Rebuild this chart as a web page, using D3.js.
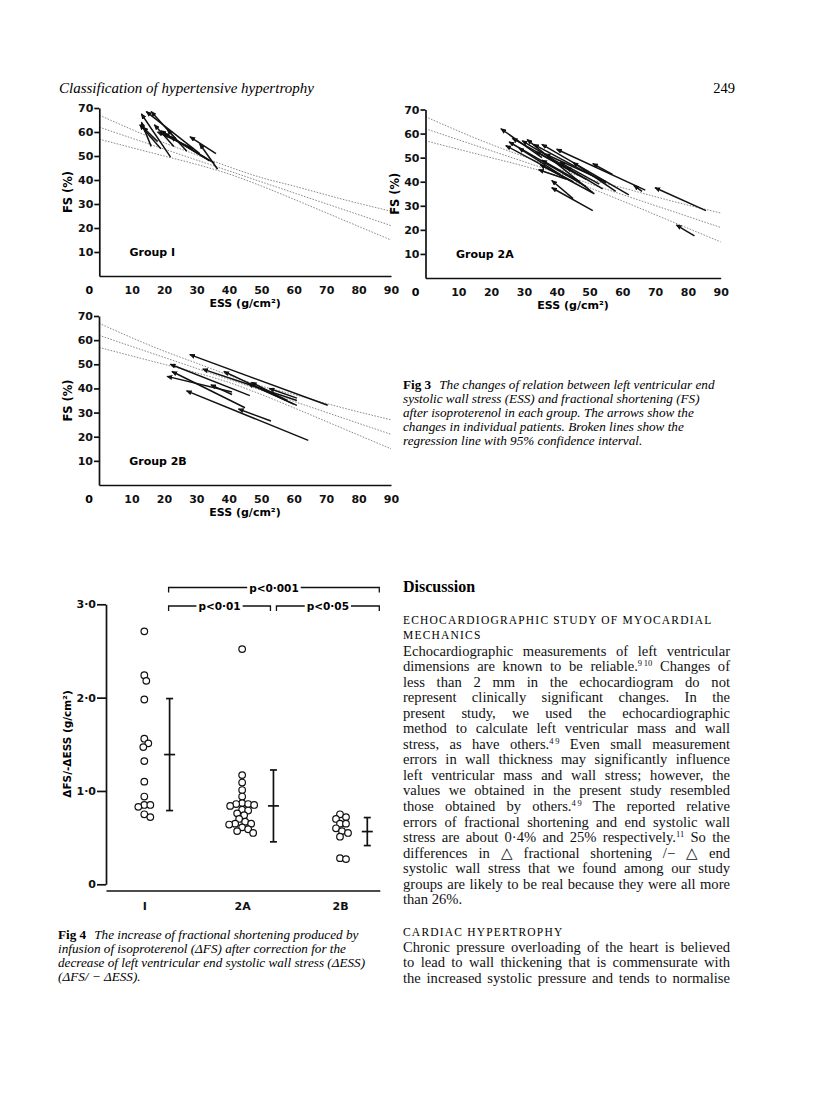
<!DOCTYPE html>
<html>
<head>
<meta charset="utf-8">
<script src="https://cdn.jsdelivr.net/npm/d3@7/dist/d3.min.js"></script>
<style>
  body { margin: 0; background: #fff; }
  svg { display: block; }
</style>
</head>
<body>
<svg id="page" width="816" height="1093"></svg>
<script>
// ---- data ----
var essTicks = [10, 20, 30, 40, 50, 60, 70, 80, 90];
var fsTicks  = [10, 20, 30, 40, 50, 60, 70];

// regression line and its 95% confidence limits (FS read at these ESS values)
var bandEss   = [0, 20, 30, 40, 50, 60, 75, 90];
var bandUpper = [67, 55.5, 50.5, 45.5, 41, 37.5, 32, 27];
var bandLower = [57, 50, 46.5, 42.5, 37.5, 32, 23.5, 15];
var regEss    = [0, 90];
var regFs     = [62, 21];

// arrows: [ESS before, FS before, ESS after, FS after]
var group1Arrows = [
  [22, 49.5, 13, 67.5], [31, 51, 14.5, 68.5], [27, 52, 16, 68.5], [16, 54, 13, 64],
  [19, 53, 12.5, 63], [18, 56, 13.5, 62], [33, 49, 19, 60.5], [35.5, 47, 20, 59.5],
  [25, 55, 21, 61], [36, 51, 28, 58], [36.5, 44.5, 31, 55], [23, 54, 17, 63],
  [34, 48, 22, 58], [29, 53, 18, 60]
];
var group2AArrows = [
  [35.5, 50, 23, 62], [45, 40, 24.5, 55], [49, 38, 25.5, 56.5], [47, 42.5, 26.5, 58],
  [43, 46, 29.5, 57], [51, 35.5, 31, 57.5], [55, 39.5, 33, 55.5], [62, 34.5, 35.5, 55.5],
  [67, 36.5, 40, 53.5], [58, 36, 45, 48], [66, 36, 63.5, 38.5], [85.5, 28, 70, 37.5],
  [82, 17.5, 76.5, 22], [45, 33, 38.5, 40.5], [51, 28, 38.5, 37.5], [51.5, 35, 35, 47],
  [47, 40, 35.5, 49], [55, 40, 36.5, 51.5], [49, 41, 33.5, 52.5], [53, 39, 41, 48],
  [41, 43, 28.5, 54], [43, 41, 34.5, 45], [54, 37, 43, 46], [57, 43, 51, 47.5]
];
var group2BArrows = [
  [70.5, 33, 28, 54], [61, 35, 32, 48], [60, 33.5, 38.5, 47], [46.5, 37, 22, 50],
  [41, 38.5, 21, 45], [45, 32, 22.5, 47], [64.5, 18.5, 27, 39], [53, 26.5, 43, 31.5],
  [41, 37.5, 34.5, 41.5], [61, 33, 46, 42], [61, 36, 52.5, 40], [58, 35, 47, 42.5]
];

// Fig 4: ΔFS/-ΔESS per patient
var fig4Groups = ["I", "2A", "2B"];
var fig4I  = [2.71, 2.24, 2.18, 1.98, 1.56, 1.51, 1.47, 1.32, 1.10, 0.94, 0.85, 0.85, 0.83, 0.75, 0.72];
var fig4A  = [2.52, 1.17, 1.09, 1.01, 0.94, 0.87, 0.84, 0.86, 0.86, 0.85, 0.80, 0.79, 0.74, 0.76,
              0.70, 0.67, 0.65, 0.65, 0.64, 0.61, 0.59, 0.57, 0.55];
var fig4B  = [0.75, 0.70, 0.72, 0.65, 0.65, 0.60, 0.57, 0.55, 0.51, 0.28, 0.27];
var fig4Mean = [1.39, 0.84, 0.565];
var fig4Sd   = [0.60, 0.385, 0.15];
var fig4Ticks = [0, 1, 2, 3];
var pBrackets = [
  {from: "I",  to: "2B", label: "p<0·001", level: 0},
  {from: "I",  to: "2A", label: "p<0·01",  level: 1},
  {from: "2A", to: "2B", label: "p<0·05",  level: 1}
];

// ---- text ----
var fig3Caption = [
  "The changes of relation between left ventricular end",
  "systolic wall stress (ESS) and fractional shortening (FS)",
  "after isoproterenol in each group. The arrows show the",
  "changes in individual patients. Broken lines show the",
  "regression line with 95% confidence interval."
];
var fig4Caption = [
  "The increase of fractional shortening produced by",
  "infusion of isoproterenol (ΔFS) after correction for the",
  "decrease of left ventricular end systolic wall stress (ΔESS)",
  "(ΔFS/ − ΔESS)."
];
var para1 = [
  "Echocardiographic measurements of left ventricular",
  "dimensions are known to be reliable.^{9\u200910} Changes of",
  "less than 2 mm in the echocardiogram do not",
  "represent clinically significant changes. In the",
  "present study, we used the echocardiographic",
  "method to calculate left ventricular mass and wall",
  "stress, as have others.^{4\u20099} Even small measurement",
  "errors in wall thickness may significantly influence",
  "left ventricular mass and wall stress; however, the",
  "values we obtained in the present study resembled",
  "those obtained by others.^{4\u20099} The reported relative",
  "errors of fractional shortening and end systolic wall",
  "stress are about 0·4% and 25% respectively.^{11} So the",
  "differences in △ fractional shortening /− △ end",
  "systolic wall stress that we found among our study",
  "groups are likely to be real because they were all more",
  "than 26%."
];
var para2 = [
  "Chronic pressure overloading of the heart is believed",
  "to lead to wall thickening that is commensurate with",
  "the increased systolic pressure and tends to normalise"
];

var SANS = "DejaVu Sans", SERIF = "Liberation Serif";
var svg = d3.select("#page");

svg.append("defs").append("marker")
    .attr("id", "head").attr("viewBox", "0 -3 7 6")
    .attr("refX", 6).attr("refY", 0)
    .attr("markerWidth", 6).attr("markerHeight", 5.1)
    .attr("markerUnits", "userSpaceOnUse").attr("orient", "auto")
  .append("path").attr("d", "M0,-3L7,0L0,3Z").attr("fill", "#111");

function styleAxis(sel, size) {
    sel.attr("font-family", null).attr("font-size", null);
    sel.selectAll("path, line").attr("stroke", "#111").attr("stroke-width", 1.7);
    sel.selectAll("text").attr("font-family", SANS).attr("font-weight", "bold")
        .attr("font-size", size || 11).attr("fill", "#111");
}

// ---- Fig 3 panels ----
var panels = [
    {name: "Group I",  arrows: group1Arrows,  x: [99.3, 391],    y: [276, 108]},
    {name: "Group 2A", arrows: group2AArrows, x: [425.5, 720.7], y: [278, 109.5]},
    {name: "Group 2B", arrows: group2BArrows, x: [99, 391],      y: [485, 316]}
];

function arrowPanel(p) {
    var x = d3.scaleLinear().domain([0, 90]).range(p.x),
        y = d3.scaleLinear().domain([0, 70]).range(p.y);
    var g = svg.append("g");

    var band = [d3.zip(bandEss, bandUpper), d3.zip(regEss, regFs), d3.zip(bandEss, bandLower)];
    var line = d3.line().x(function(d) { return x(d[0]); }).y(function(d) { return y(d[1]); })
        .curve(d3.curveMonotoneX);
    g.selectAll("path.reg").data(band).enter().append("path")
        .attr("class", "reg").attr("d", line).attr("fill", "none")
        .attr("stroke", "#8c8c8c").attr("stroke-width", 1).attr("stroke-dasharray", "1.6,1.4");

    g.selectAll("line.arrow").data(p.arrows).enter().append("line")
        .attr("class", "arrow")
        .attr("x1", function(d) { return x(d[0]); }).attr("y1", function(d) { return y(d[1]); })
        .attr("x2", function(d) { return x(d[2]); }).attr("y2", function(d) { return y(d[3]); })
        .attr("stroke", "#111").attr("stroke-width", 1.5)
        .attr("marker-end", "url(#head)");

    var ya = g.append("g").attr("transform", "translate(" + x(0) + ",0)")
        .call(d3.axisLeft(y).tickValues(fsTicks).tickSize(5).tickPadding(1).tickSizeOuter(0));
    var xa = g.append("g").attr("transform", "translate(0," + y(0) + ")")
        .call(d3.axisBottom(x).tickValues(essTicks).tickSize(0).tickPadding(10).tickSizeOuter(0));
    styleAxis(ya); styleAxis(xa);

    g.append("text").attr("x", x(0) - 10).attr("y", y(0) + 18)
        .attr("text-anchor", "middle").attr("font-family", SANS).attr("font-weight", "bold")
        .attr("font-size", 11).text("0");

    g.append("text").attr("x", (p.x[0] + p.x[1]) / 2).attr("y", y(0) + 31)
        .attr("text-anchor", "middle").attr("font-family", SANS).attr("font-weight", "bold")
        .attr("font-size", 11)
        .text("ESS (g/cm²)");

    g.append("text").attr("transform", "translate(" + (x(0) - 27) + "," + y(35) + ") rotate(-90)")
        .attr("text-anchor", "middle").attr("font-family", SANS).attr("font-weight", "bold")
        .attr("font-size", 11.5).text("FS (%)");

    g.append("text").attr("x", x(9.3)).attr("y", y(10) + 4)
        .attr("font-family", SANS).attr("font-weight", "bold").attr("font-size", 11)
        .text(p.name);
}
panels.forEach(arrowPanel);

// ---- Fig 4 ----
var y4 = d3.scaleLinear().domain([0, 3]).range([884.3, 604.3]);
var x4 = d3.scalePoint().domain(fig4Groups).range([144.3, 340]);
var R = 3.3;

// simple beeswarm: nudge each circle sideways until it clears the ones placed
function swarm(vals, cx) {
    var placed = [];
    vals.slice().sort(d3.descending).forEach(function(v) {
        var cy = y4(v), off = 0;
        for (var k = 0; k < 80; k++) {
            off = k === 0 ? 0 : (k % 2 ? 1 : -1) * Math.ceil(k / 2);
            var hit = placed.some(function(q) {
                var dx = q.x - (cx + off), dy = q.y - cy;
                return dx * dx + dy * dy < 5.8 * 5.8;
            });
            if (!hit) break;
        }
        placed.push({x: cx + off, y: cy, v: v});
    });
    return placed;
}

var fig4Vals = [fig4I, fig4A, fig4B];
var g4 = svg.append("g");
var barX = {};
fig4Groups.forEach(function(grp, i) {
    var pts = swarm(fig4Vals[i], x4(grp));
    g4.selectAll("circle.g" + i).data(pts).enter().append("circle")
        .attr("cx", function(d) { return d.x; }).attr("cy", function(d) { return d.y; })
        .attr("r", R).attr("fill", "#fff").attr("stroke", "#111").attr("stroke-width", 1.2);

    var bx = d3.max(pts, function(d) { return d.x; }) + R + 16;
    barX[grp] = bx;
    var m = fig4Mean[i], s = fig4Sd[i];
    var bar = g4.append("g").attr("stroke", "#111").attr("stroke-width", 1.7);
    bar.append("line").attr("x1", bx).attr("x2", bx).attr("y1", y4(m - s)).attr("y2", y4(m + s));
    bar.append("line").attr("x1", bx - 3.5).attr("x2", bx + 3.5).attr("y1", y4(m - s)).attr("y2", y4(m - s));
    bar.append("line").attr("x1", bx - 3.5).attr("x2", bx + 3.5).attr("y1", y4(m + s)).attr("y2", y4(m + s));
    bar.append("line").attr("x1", bx - 5.5).attr("x2", bx + 5.5).attr("y1", y4(m)).attr("y2", y4(m));
});

var y4a = g4.append("g").attr("transform", "translate(106,0)")
    .call(d3.axisLeft(y4).tickValues(fig4Ticks).tickSize(9).tickPadding(1).tickSizeOuter(0)
        .tickFormat(function(d) { return d === 0 ? "0" : d3.format(".1f")(d).replace(".", "·"); }));
styleAxis(y4a);

g4.append("line").attr("x1", 106.5).attr("x2", barX["2B"] + 13)
    .attr("y1", 891).attr("y2", 891).attr("stroke", "#111").attr("stroke-width", 1.7);
var x4a = g4.append("g").attr("transform", "translate(0,891)")
    .call(d3.axisBottom(x4).tickSize(0).tickPadding(11));
x4a.select(".domain").remove();
styleAxis(x4a);

g4.append("text").attr("transform", "translate(71,744) rotate(-90)")
    .attr("text-anchor", "middle").attr("font-family", SANS).attr("font-weight", "bold")
    .attr("font-size", 10.5).text("ΔFS/-ΔESS (g/cm²)");

// significance brackets
pBrackets.forEach(function(b) {
    var x1 = barX[b.from] + (b.from === "I" ? -1 : 3),
        x2 = barX[b.to] + (b.to === "2B" ? 12 : -3),
        yb = b.level === 0 ? 587.5 : 606,
        xm = (x1 + x2) / 2;
    var t = g4.append("text").attr("x", xm).attr("y", yb + 4)
        .attr("text-anchor", "middle").attr("font-family", SANS).attr("font-weight", "bold")
        .attr("font-size", 10.5).text(b.label);
    var half = t.node().getComputedTextLength() / 2 + 2;
    g4.append("path")
        .attr("d", "M" + x1 + "," + (yb + 5) + "V" + yb + "H" + (xm - half) +
                   "M" + (xm + half) + "," + yb + "H" + x2 + "V" + (yb + 5))
        .attr("fill", "none").attr("stroke", "#111").attr("stroke-width", 1.3);
});

// ---- page text ----
svg.append("text").attr("x", 59).attr("y", 93)
    .attr("font-family", SERIF).attr("font-style", "italic").attr("font-size", 15)
    .text("Classification of hypertensive hypertrophy");
svg.append("text").attr("x", 735).attr("y", 93).attr("text-anchor", "end")
    .attr("font-family", SERIF).attr("font-size", 14.5).text("249");

function caption(x, y0, label, lines) {
    lines.forEach(function(s, i) {
        var t = svg.append("text").attr("x", x).attr("y", y0 + i * 14)
            .attr("font-family", SERIF).attr("font-size", 13.2);
        if (i === 0) {
            t.append("tspan").attr("font-weight", "bold").text(label);
            t.append("tspan").attr("dx", 8).attr("font-style", "italic").text(s);
        } else {
            t.append("tspan").attr("font-style", "italic").text(s);
        }
    });
}
caption(403, 389, "Fig 3", fig3Caption);
caption(58, 939, "Fig 4", fig4Caption);

svg.append("text").attr("x", 403).attr("y", 592)
    .attr("font-family", SERIF).attr("font-weight", "bold").attr("font-size", 16)
    .text("Discussion");

function smallCaps(y, s) {
    svg.append("text").attr("x", 403).attr("y", y)
        .attr("font-family", SERIF).attr("font-size", 11.5).attr("letter-spacing", 1.2)
        .text(s);
}
smallCaps(624, "ECHOCARDIOGRAPHIC STUDY OF MYOCARDIAL");
smallCaps(639, "MECHANICS");
smallCaps(936, "CARDIAC HYPERTROPHY");

var COLW = 327;
function bodyLines(y0, lines, lastRagged) {
    lines.forEach(function(s, i) {
        var t = svg.append("text").attr("x", 403).attr("y", y0 + i * 15.55)
            .attr("font-family", SERIF).attr("font-size", 14.6).attr("fill", "#111");
        var sup = false;
        s.split(/(\^\{[^}]*\})/).forEach(function(part) {
            if (!part) return;
            if (part[0] === "^") {
                t.append("tspan").attr("dy", -5).attr("font-size", 8.5).text(part.slice(2, -1));
                sup = true;
            } else {
                var ts = t.append("tspan").text(part);
                if (sup) { ts.attr("dy", 5); sup = false; }
            }
        });
        if (lastRagged && i === lines.length - 1) return;
        var w = t.node().getComputedTextLength(),
            n = (s.match(/ /g) || []).length;
        if (n) t.attr("word-spacing", (COLW - w) / n);
    });
}
bodyLines(655.5, para1, true);
bodyLines(951.5, para2, false);
</script>
</body>
</html>
